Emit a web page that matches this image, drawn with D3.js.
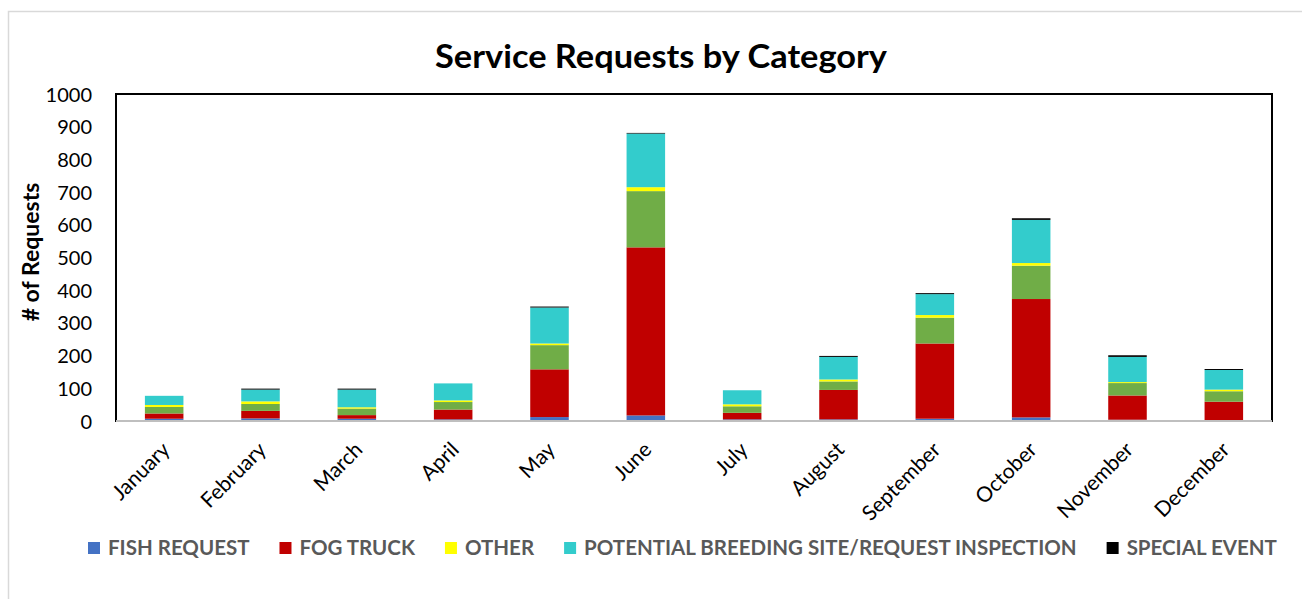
<!DOCTYPE html>
<html>
<head>
<meta charset="utf-8">
<script src="https://cdn.jsdelivr.net/npm/d3@7"></script>
<style>
  html, body { margin: 0; padding: 0; background: #fff; }
  svg { display: block; font-family: Lato, "Open Sans", sans-serif; }
</style>
</head>
<body>
<svg id="chart" width="1302" height="599"></svg>
<script>
// ---- data ----
const months = ["January","February","March","April","May","June","July","August","September","October","November","December"];
const fishRequest   = [7, 8, 7, 5, 12, 17, 5, 5, 7, 11, 4, 2];
const fogTruck      = [16, 23, 11, 30, 146, 514, 20, 90, 230, 362, 74, 57];
const unlabeled     = [20, 21, 20, 23, 74, 172, 20, 26, 79, 102, 38, 32];
const other         = [6, 8, 4, 5, 5, 12, 6, 6, 8, 8, 3, 5];
const breedingSite  = [28, 36, 54, 52, 110, 164, 43, 69, 64, 132, 77, 60];
const specialEvent  = [0, 3, 3, 0, 3, 2, 0, 3, 3, 5, 5, 3];
const yTicks = [0,100,200,300,400,500,600,700,800,900,1000];

const series = [
  {key: "FISH REQUEST", values: fishRequest, color: "#4472C4", legend: true},
  {key: "FOG TRUCK", values: fogTruck, color: "#C00000", legend: true},
  {key: "(unlabeled)", values: unlabeled, color: "#70AD47", legend: false},
  {key: "OTHER", values: other, color: "#FFFF00", legend: true},
  {key: "POTENTIAL BREEDING SITE/REQUEST INSPECTION", values: breedingSite, color: "#33CCCC", legend: true},
  {key: "SPECIAL EVENT", values: specialEvent, color: "#000000", legend: true}
];

const rows = months.map((m, i) => {
  const r = {month: m};
  series.forEach(s => r[s.key] = s.values[i]);
  return r;
});

// ---- layout ----
const svg = d3.select("#chart");
const plot = {left: 116, right: 1272, top: 94, bottom: 421};

// outer chart border
svg.append("rect")
  .attr("x", 8.5).attr("y", 11.5).attr("width", 1300).attr("height", 600)
  .attr("fill", "#fff").attr("stroke", "#d9d9d9").attr("stroke-width", 1.5);

const x = d3.scaleBand().domain(months).range([plot.left, plot.right]).paddingInner(0.6).paddingOuter(0.3);
const y = d3.scaleLinear().domain([0, 1000]).range([plot.bottom, plot.top]);

const stack = d3.stack().keys(series.map(s => s.key));
const stacked = stack(rows);

// bars
const g = svg.append("g");
g.selectAll("g.layer").data(stacked).join("g")
  .attr("class", "layer")
  .attr("fill", (d, i) => series[i].color)
  .selectAll("rect").data(d => d.map((v, j) => ({v, m: months[j]}))).join("rect")
  .attr("x", d => x(d.m))
  .attr("width", x.bandwidth())
  .attr("y", d => y(d.v[1]))
  .attr("height", d => Math.max(0, y(d.v[0]) - y(d.v[1])));

// plot frame
svg.append("rect")
  .attr("x", plot.left).attr("y", plot.top)
  .attr("width", plot.right - plot.left).attr("height", plot.bottom - plot.top)
  .attr("fill", "none").attr("stroke", "#000").attr("stroke-width", 2);

// x axis line
svg.append("line")
  .attr("x1", plot.left).attr("x2", plot.right)
  .attr("y1", plot.bottom).attr("y2", plot.bottom)
  .attr("stroke", "#bfbfbf").attr("stroke-width", 2);

// y axis
const yAxis = d3.axisLeft(y).tickValues(yTicks).tickFormat(d3.format("d")).tickSize(0).tickPadding(0);
const yg = svg.append("g").attr("transform", `translate(${92},0)`).call(yAxis);
yg.select(".domain").remove();
yg.selectAll("text")
  .attr("font-family", "Lato, sans-serif")
  .attr("font-size", 20).attr("fill", "#000").attr("dy", "0.35em");

// x axis labels
const xAxis = d3.axisBottom(x).tickSize(0).tickPadding(0);
const xg = svg.append("g").attr("transform", `translate(0,${plot.bottom})`).call(xAxis);
xg.select(".domain").remove();
xg.selectAll("text")
  .attr("font-family", "Lato, sans-serif")
  .attr("font-size", 21).attr("fill", "#000")
  .attr("text-anchor", "end")
  .attr("dy", null).attr("y", 0)
  .attr("transform", "translate(7,30) rotate(-45)");

// title
svg.append("text")
  .attr("x", 661).attr("y", 68)
  .attr("text-anchor", "middle")
  .attr("font-family", "Lato, sans-serif")
  .attr("font-weight", "bold").attr("font-size", 33)
  .attr("textLength", 452).attr("lengthAdjust", "spacingAndGlyphs")
  .attr("fill", "#000")
  .text("Service Requests by Category");

// y axis title
svg.append("text")
  .attr("transform", "translate(39,252) rotate(-90)")
  .attr("text-anchor", "middle")
  .attr("font-family", "Lato, sans-serif")
  .attr("font-weight", "bold").attr("font-size", 23)
  .attr("fill", "#000")
  .text("# of Requests");

// legend
const legendItems = series.filter(s => s.legend);
const lg = svg.append("g").attr("transform", "translate(0,548)");
let cx = 88;
legendItems.forEach((s, i) => {
  const item = lg.append("g").attr("transform", `translate(${cx},0)`);
  item.append("rect").attr("x", 0).attr("y", -6).attr("width", 12).attr("height", 12).attr("fill", s.color);
  const t = item.append("text")
    .attr("x", 20).attr("y", 0).attr("dy", "0.36em")
    .attr("font-family", "Lato, sans-serif")
    .attr("font-weight", "bold").attr("font-size", 20.5)
    .attr("fill", "#595959")
    .text(s.key);
  cx += 20 + t.node().getComputedTextLength() + 30;
});
</script>
</body>
</html>
